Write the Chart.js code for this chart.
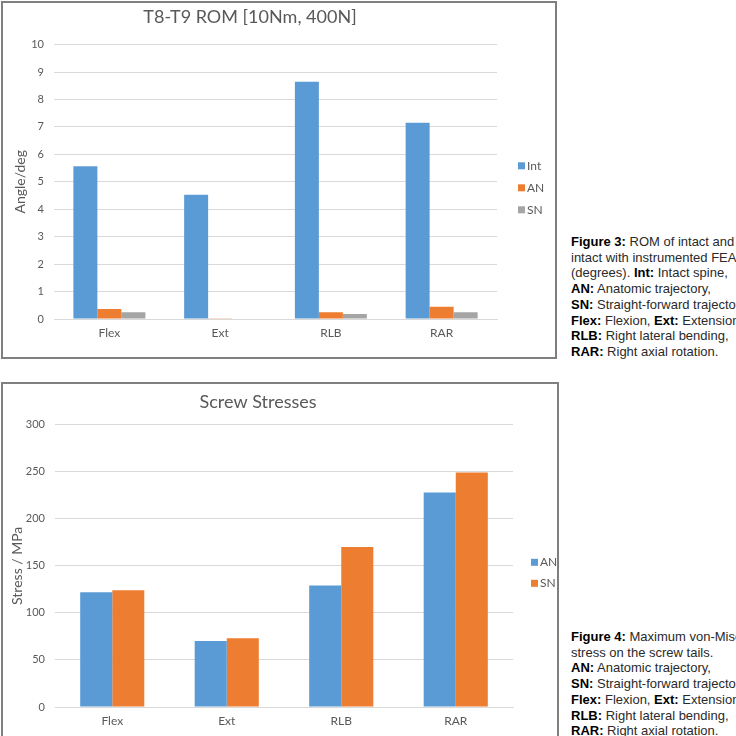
<!DOCTYPE html>
<html>
<head>
<meta charset="utf-8">
<script src="https://cdn.jsdelivr.net/npm/chart.js@4/dist/chart.umd.min.js"></script>
<style>
  html, body { margin: 0; padding: 0; background: #fff; width: 736px; height: 736px; overflow: hidden; }
  .box { position: absolute; box-sizing: border-box; border: 2px solid #7f7f7f; background: #fff; }
  #box1 { left: 1px; top: 1px; width: 556px; height: 358px; }
  #box2 { left: 1px; top: 382px; width: 558px; height: 362px; }
  .box canvas { display: block; }
  .cap { position: absolute; left: 571px; font-family: "Liberation Sans", Arial, sans-serif; font-size: 13px; line-height: 15.7px; color: #2a2a2a; white-space: nowrap; }
  .cap b { color: #000; }
  #cap1 { top: 234px; }
  #cap2 { top: 629px; }
</style>
</head>
<body>
<div class="box" id="box1"><canvas id="c1"></canvas></div>
<div class="box" id="box2"><canvas id="c2"></canvas></div>
<div class="cap" id="cap1">
  <div><b>Figure 3:</b> ROM of intact and</div>
  <div>intact with instrumented FEA</div>
  <div>(degrees). <b>Int:</b> Intact spine,</div>
  <div><b>AN:</b> Anatomic trajectory,</div>
  <div><b>SN:</b> Straight-forward trajectory,</div>
  <div><b>Flex:</b> Flexion, <b>Ext:</b> Extension,</div>
  <div><b>RLB:</b> Right lateral bending,</div>
  <div><b>RAR:</b> Right axial rotation.</div>
</div>
<div class="cap" id="cap2">
  <div><b>Figure 4:</b> Maximum von-Mises</div>
  <div>stress on the screw tails.</div>
  <div><b>AN:</b> Anatomic trajectory,</div>
  <div><b>SN:</b> Straight-forward trajectory,</div>
  <div><b>Flex:</b> Flexion, <b>Ext:</b> Extension,</div>
  <div><b>RLB:</b> Right lateral bending,</div>
  <div><b>RAR:</b> Right axial rotation.</div>
</div>
<script>
// ---- data ----
const categories = ['Flex', 'Ext', 'RLB', 'RAR'];
const romInt = [5.57, 4.53, 8.65, 7.15];
const romAN  = [0.36, 0.03, 0.25, 0.45];
const romSN  = [0.25, 0.02, 0.18, 0.25];
const stressAN = [122, 70, 129, 228];
const stressSN = [124, 73, 170, 249];
const romTitle = 'T8-T9 ROM [10Nm, 400N]';
const stressTitle = 'Screw Stresses';
const romAxisTitle = 'Angle/deg';
const stressAxisTitle = 'Stress / MPa';

// ---- styles ----
const BLUE = '#5B9BD5', ORANGE = '#ED7D31', GRAY = '#A5A5A5';
const TXT = '#595959', GRID = '#D9D9D9';
const FONT = 'Lato, "Open Sans", sans-serif';

function sizeCanvas(id, w, h) {
  const c = document.getElementById(id);
  c.width = w; c.height = h;
  c.style.width = w + 'px'; c.style.height = h + 'px';
  return c;
}

function legendPlugin(dx, dy, gap) {
  return {
    id: 'sideLegend',
    afterDraw(chart) {
      const ctx = chart.ctx, a = chart.chartArea;
      const ds = chart.data.datasets;
      const cy = (a.top + a.bottom) / 2 + dy;
      const y0 = cy - (ds.length - 1) * gap / 2;
      ctx.save();
      ctx.font = '12px ' + FONT;
      ctx.textBaseline = 'middle';
      ctx.textAlign = 'left';
      ds.forEach((d, i) => {
        const y = y0 + i * gap;
        const x = a.right + dx;
        ctx.fillStyle = d.backgroundColor;
        ctx.fillRect(x, y - 3.5, 7, 7);
        ctx.fillStyle = TXT;
        ctx.fillText(d.label, x + 9, y);
      });
      ctx.restore();
    }
  };
}

function makeChart(id, w, h, datasets, opts) {
  const c = sizeCanvas(id, w, h);
  return new Chart(c, {
    type: 'bar',
    data: { labels: categories, datasets },
    options: {
      responsive: false,
      animation: false,
      devicePixelRatio: 1,
      layout: { padding: { left: 0, right: opts.padRight, top: 0, bottom: 0 } },
      datasets: { bar: { categoryPercentage: opts.catPct, barPercentage: 1.0 } },
      plugins: {
        legend: { display: false },
        tooltip: { enabled: false },
        title: {
          display: true, text: opts.title, color: TXT,
          font: { family: FONT, size: 18, weight: 'normal' },
          padding: { top: opts.titleTop, bottom: opts.titleBottom }
        }
      },
      scales: {
        x: {
          grid: { display: false, drawTicks: false },
          border: { display: true, color: GRID, width: 1 },
          ticks: { color: TXT, font: { family: FONT, size: 12 }, padding: 7 },
          afterFit(s) { s.height = opts.xHeight; }
        },
        y: {
          min: 0, max: opts.max,
          ticks: { stepSize: opts.step, color: TXT, font: { family: FONT, size: 11 }, padding: 10 },
          grid: { color: GRID, drawTicks: false, lineWidth: 1 },
          border: { display: false },
          title: {
            display: true, text: opts.yTitle, color: TXT,
            font: { family: FONT, size: 14 }, padding: { top: opts.yTitlePad, bottom: 0 }
          },
          afterFit(s) { s.width = opts.yWidth; }
        }
      }
    },
    plugins: [legendPlugin(opts.legDx, opts.legDy, opts.legGap)]
  });
}

makeChart('c1', 552, 354, [
  { label: 'Int', data: romInt, backgroundColor: BLUE },
  { label: 'AN', data: romAN, backgroundColor: ORANGE },
  { label: 'SN', data: romSN, backgroundColor: GRAY }
], {
  title: romTitle, yTitle: romAxisTitle, max: 10, step: 1, catPct: 0.65,
  padRight: 58, titleTop: 3, titleBottom: 17, xHeight: 38, yWidth: 51, yTitlePad: 9,
  legDx: 21, legDy: 6, legGap: 22
});

makeChart('c2', 554, 356, [
  { label: 'AN', data: stressAN, backgroundColor: BLUE },
  { label: 'SN', data: stressSN, backgroundColor: ORANGE }
], {
  title: stressTitle, yTitle: stressAxisTitle, max: 300, step: 50, catPct: 0.56,
  padRight: 44, titleTop: 7, titleBottom: 12, xHeight: 33, yWidth: 52, yTitlePad: 6,
  legDx: 18, legDy: 7, legGap: 21
});
</script>
</body>
</html>
